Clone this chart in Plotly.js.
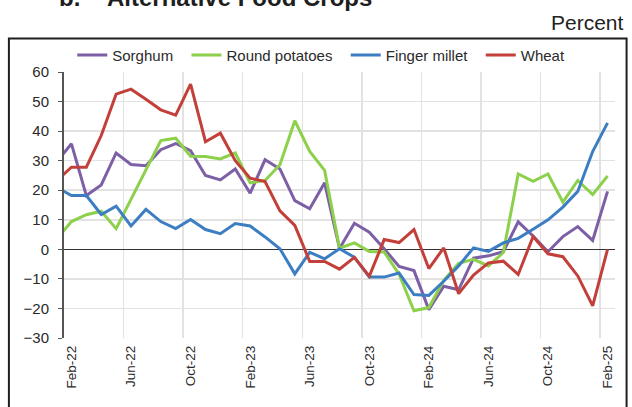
<!DOCTYPE html>
<html>
<head>
    <script src="https://cdn.plot.ly/plotly-3.0.1.min.js"></script>
    <style>
        body { margin: 0; background: #fff; }
        #chart { width: 632px; height: 407px; }
    </style>
</head>
<body>
    <div id="chart"></div>
    <script>
        // month categories (Jan-22 sits just left of the visible range)
        var months = ['Jan-22', 'Feb-22', 'Mar-22', 'Apr-22', 'May-22', 'Jun-22', 'Jul-22', 'Aug-22',
            'Sep-22', 'Oct-22', 'Nov-22', 'Dec-22', 'Jan-23', 'Feb-23', 'Mar-23', 'Apr-23', 'May-23',
            'Jun-23', 'Jul-23', 'Aug-23', 'Sep-23', 'Oct-23', 'Nov-23', 'Dec-23', 'Jan-24', 'Feb-24',
            'Mar-24', 'Apr-24', 'May-24', 'Jun-24', 'Jul-24', 'Aug-24', 'Sep-24', 'Oct-24', 'Nov-24',
            'Dec-24', 'Jan-25', 'Feb-25'];
        var tickMonths = ['Feb-22', 'Jun-22', 'Oct-22', 'Feb-23', 'Jun-23', 'Oct-23', 'Feb-24', 'Jun-24', 'Oct-24', 'Feb-25'];

        var sorghum = [29.5, 35.7, 18.2, 21.8, 32.6, 28.7, 28.3, 33.7, 35.8, 33.4, 25.0, 23.5, 27.2,
            19.0, 30.3, 27.2, 16.5, 13.7, 22.5, 0.3, 8.8, 5.8, 0.2, -5.8, -7.2, -20.4, -12.5, -13.7,
            -3.0, -2.2, -0.8, 9.3, 4.5, -0.8, 4.3, 7.7, 3.0, 19.6];
        var roundPotatoes = [3.4, 9.4, 11.7, 12.9, 7.0, 16.9, 26.8, 36.8, 37.6, 31.5, 31.4, 30.6, 32.6,
            22.5, 23.3, 28.6, 43.5, 33.1, 26.7, 0.4, 2.2, -0.7, -0.9, -8.4, -20.8, -19.7, -10.5, -4.7,
            -3.4, -5.6, -1.1, 25.5, 23.0, 25.5, 16.0, 23.3, 18.5, 24.8];
        var fingerMillet = [21.0, 18.2, 18.2, 11.8, 14.6, 7.9, 13.5, 9.4, 7.0, 10.1, 6.7, 5.3, 8.7,
            7.9, 4.2, 0.2, -8.3, -1.0, -3.2, 0.2, -2.7, -9.4, -9.4, -8.0, -15.3, -15.6, -10.8, -5.6,
            0.5, -0.7, 2.2, 3.7, 6.8, 10.0, 14.3, 19.6, 33.1, 42.8];
        var wheat = [23.2, 27.8, 27.8, 38.5, 52.5, 54.2, 50.8, 47.2, 45.4, 55.9, 36.4, 39.3, 30.0,
            24.1, 22.9, 13.0, 8.1, -4.1, -4.1, -6.7, -2.7, -9.1, 3.3, 2.3, 6.7, -6.5, 0.5, -15.0,
            -8.7, -4.6, -4.0, -8.5, 4.3, -1.5, -2.5, -9.0, -19.1, 0.0];

        var xs = months.map(function(m, i) { return i; });
        var tickPos = tickMonths.map(function(m) { return months.indexOf(m); });
        var gridPos = tickPos.map(function(p) { return p - 0.5; });

        // two no-break spaces widen the legend spacing a little
        var pad = '\u00a0\u00a0';

        function line(name, values, color) {
            return {
                x: xs, y: values, name: name + pad, type: 'scatter', mode: 'lines',
                line: { color: color, width: 3 },
                hoverinfo: 'skip'
            };
        }

        var data = [
            line('Sorghum', sorghum, '#7d5fa6'),
            line('Round potatoes', roundPotatoes, '#8dd04b'),
            line('Finger millet', fingerMillet, '#3d7ec3'),
            line('Wheat', wheat, '#c3403a')
        ];

        var font = 'Liberation Sans, Arial, sans-serif';

        var layout = {
            width: 632,
            height: 407,
            margin: { l: 64, r: 17, t: 72, b: 69 },
            paper_bgcolor: '#fff',
            plot_bgcolor: '#fff',
            font: { family: font, color: '#2a2a2a' },
            showlegend: true,
            legend: {
                orientation: 'h', x: 0.015, xanchor: 'left', y: 1.063, yanchor: 'middle',
                font: { size: 15, color: '#2a2a2a' }, bgcolor: 'rgba(0,0,0,0)', itemwidth: 30
            },
            xaxis: {
                range: [0.5, 37.5],
                tickvals: tickPos,
                ticktext: tickMonths,
                tickangle: -90,
                tickfont: { size: 13.5, color: '#2a2a2a' },
                showgrid: false,
                zeroline: false,
                showline: false,
                ticks: '',
                ticklabelstandoff: 4,
                minor: { tickvals: gridPos, showgrid: true, gridcolor: '#e2e2e2', gridwidth: 1.5, ticks: '' },
                fixedrange: true
            },
            xaxis2: {
                overlaying: 'x',
                matches: 'x',
                anchor: 'free',
                position: 1 / 3,
                side: 'bottom',
                tickvals: gridPos,
                showticklabels: false,
                ticks: 'outside',
                ticklen: 3,
                tickwidth: 1.2,
                tickcolor: '#333',
                showgrid: false,
                zeroline: false,
                showline: false
            },
            yaxis: {
                range: [-30, 60],
                dtick: 10,
                tickfont: { size: 15, color: '#2a2a2a' },
                gridcolor: '#e2e2e2',
                gridwidth: 1.5,
                zeroline: true,
                zerolinecolor: '#333',
                zerolinewidth: 1.5,
                showline: true,
                linecolor: '#555',
                linewidth: 2,
                ticks: 'outside',
                ticklen: 4,
                tickcolor: '#555',
                ticklabelstandoff: 6,
                fixedrange: true
            },
            shapes: [{
                type: 'rect', xref: 'paper', yref: 'paper',
                x0: -0.1, x1: 1.021, y0: -0.29, y1: 1.126,
                line: { color: '#1e1e1e', width: 2 }
            }],
            annotations: [
                {
                    text: '<b>b.</b>', xref: 'paper', yref: 'paper', x: -0.013, y: 1.222,
                    xanchor: 'left', yanchor: 'bottom', showarrow: false,
                    font: { size: 24, color: '#1e1e1e' }
                },
                {
                    text: '<b>Alternative Food Crops</b>', xref: 'paper', yref: 'paper', x: 0.074, y: 1.222,
                    xanchor: 'left', yanchor: 'bottom', showarrow: false,
                    font: { size: 24, color: '#1e1e1e' }
                },
                {
                    text: 'Percent', xref: 'paper', yref: 'paper', x: 1.02, y: 1.187,
                    xanchor: 'right', yanchor: 'middle', showarrow: false,
                    font: { size: 21, color: '#222' }
                }
            ]
        };

        var config = { displayModeBar: false, staticPlot: true };

        Plotly.newPlot('chart', data, layout, config);
    </script>
</body>
</html>
